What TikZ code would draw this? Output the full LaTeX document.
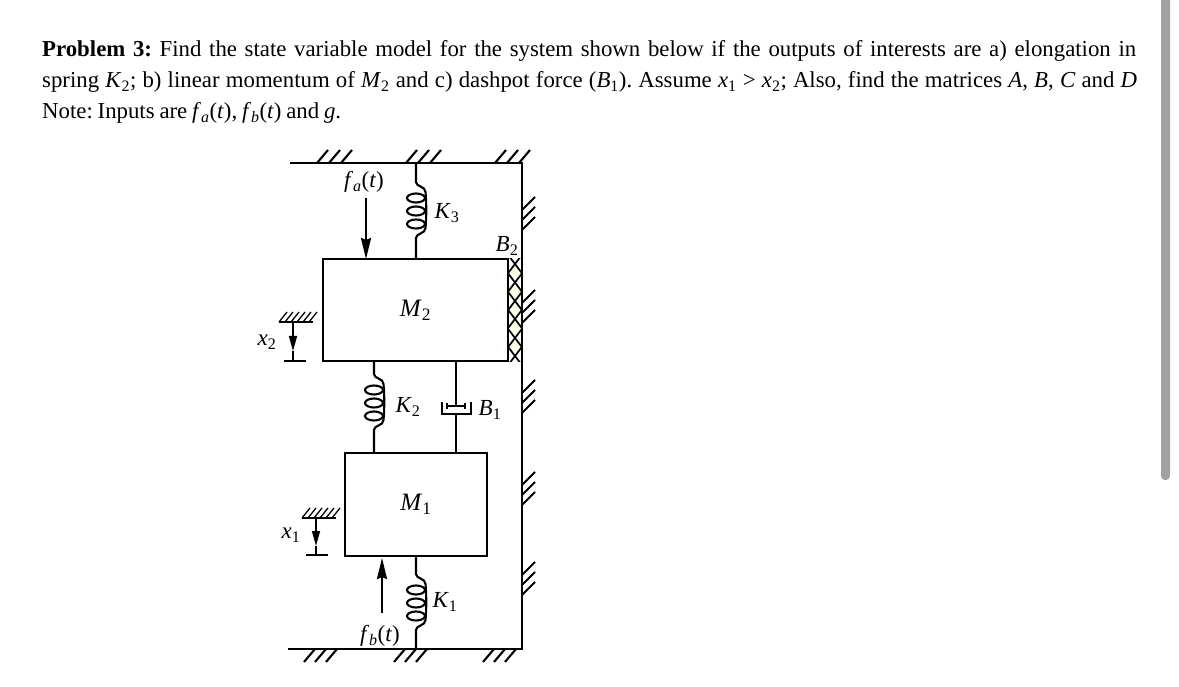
\documentclass[tikz,border=0pt]{standalone}
\usepackage{fontspec}
\setmainfont{Liberation Serif}
\usetikzlibrary{arrows.meta}
\newcommand{\lab}[2]{\textit{#1}\textsubscript{#2}}
\newcommand{\hatchmark}[2]{\foreach \dx in {0,12,24} \draw[wire] (#1+\dx,#2) -- ++(11,-13);}
% top, bottom, length of the straight part above the coil
\newcommand{\coilspring}[3]{
  \draw[wire] (#1) -- ++(0,#3) .. controls +(0,5) and +(0,-6) .. ++(9.5,10)
    .. controls +(1,10) and +(1,-10) .. ++(0,36)
    .. controls +(0,6) and +(0,-5) .. ++(-9.5,10) -- (#2);
  \foreach \dy in {16,29,42}
    \draw[wire] (#1) ++(0,#3+\dy) ellipse [x radius=9,y radius=4.5];
}
\tikzset{
  wire/.style={line width=2.1pt},
  mass/.style={draw, line width=2.1pt, inner sep=0pt, font=\fontsize{25}{28}\selectfont},
  lab/.style={inner sep=0pt, font=\fontsize{23}{26}\selectfont},
  push/.style={line width=2.4pt, -{Stealth[length=21pt,width=10pt,inset=2pt]}},
  para/.style={inner sep=0pt, anchor=base west, font=\fontsize{22.8}{26}\selectfont},
}
\begin{document}
\frenchspacing
\begin{tikzpicture}[x=1pt,y=-1pt]
  \fill[white] (0,0) rectangle (1179,687);
  \useasboundingbox (0,0) rectangle (1179,687);
  % scroll bar
  \fill[black!37,rounded corners=4pt] (1161,-10) rectangle (1170,480);

  \node[para] (line1) at (42,57) {\makebox[1094pt][s]{\textbf{Problem 3:} Find the state variable model for the system shown below if the outputs of interests are a) elongation in}};
  \node[para] (line2) at (42,88) {\makebox[1095pt][s]{spring \lab{K}{2}; b) linear momentum of \lab{M}{2} and c) dashpot force (\lab{B}{1}). Assume \lab{x}{1} > \lab{x}{2}; Also, find the matrices \textit{A}, \textit{B}, \textit{C} and \textit{D}}};
  \node[para] (line3) at (42,119) {\makebox[299pt][s]{Note: Inputs are \textit{f}\textsubscript{\textit{a}}(\textit{t}), \textit{f}\textsubscript{\textit{b}}(\textit{t}) and \textit{g}.}};

  % masses
  \node[mass, minimum width=185pt, minimum height=102pt] (M2) at (415.5,310) {\lab{M}{2}};
  \node[mass, minimum width=142pt, minimum height=103pt] (M1) at (416,504.5) {\lab{M}{1}};

  % walls
  \coordinate (wallTL) at (290,163);
  \coordinate (wallTR) at (522,163);
  \coordinate (wallBR) at (522,649);
  \coordinate (wallBL) at (288,649);
  \draw[wire] (wallTL) -- (wallTR) -- (wallBR) -- (wallBL);

  \hatchmark{317}{163}
  \hatchmark{406}{163}
  \hatchmark{495}{163}
  \foreach \x in {304,394,483}
    \foreach \dx in {0,11,22}
      \draw[wire] (\x+\dx+11,649) -- ++(-11,13);
  \foreach \y in {230,323,413,505,595}
    \foreach \dy in {0,10,20}
      \draw[wire] (522,\y-\dy) -- ++(13,-13);

  % K3
  \coordinate (K3top) at (416,163);
  \coordinate (K3bot) at (416,259);
  \coilspring{K3top}{K3bot}{19}
  \node[lab] (K3) at (447,213) {\lab{K}{3}};

  % K2
  \coordinate (K2top) at (374,361);
  \coordinate (K2bot) at (374,453);
  \coilspring{K2top}{K2bot}{13}
  \node[lab] (K2) at (408,407) {\lab{K}{2}};

  % K1
  \coordinate (K1top) at (416,556);
  \coordinate (K1bot) at (416,649);
  \coilspring{K1top}{K1bot}{18}
  \node[lab] (K1) at (445,602) {\lab{K}{1}};

  % B1
  \coordinate (B1top) at (456,361);
  \coordinate (B1pis) at (456,406);
  \coordinate (B1cyl) at (456,414);
  \coordinate (B1bot) at (456,453);
  \draw[wire] (B1top) -- (B1pis);
  \draw[wire] (B1cyl) -- (B1bot);
  \draw[wire] (442,402) -- (442,414) -- (471,414) -- (471,402);
  \draw[line width=1.4pt] (447,403) -- (447,409) (447,406) -- (465,406) (465,403) -- (465,409);
  \node[lab] (B1) at (490,410) {\lab{B}{1}};

  % B2 rollers
  \foreach \y in {273,292,310,328,347}
    \fill[black!14!yellow!10!white] (515,\y) circle (6.5);
  \begin{scope}
    \clip (508,259) rectangle (522,361);
    \foreach \y in {264,282.5,301,319,338,356}
      \draw[line width=1.7pt] (508,\y-9.2) -- (522,\y+9.2) (522,\y-9.2) -- (508,\y+9.2);
  \end{scope}
  \node[lab] (B2) at (507,246) {\lab{B}{2}};

  % forces
  \coordinate (faTail) at (366,198);
  \coordinate (faHead) at (366,259);
  \draw[push] (faTail) -- (faHead);
  \node[lab] (fa) at (364,182) {\textit{f}\textsubscript{\textit{a}}(\textit{t})};
  \coordinate (fbTail) at (382,613);
  \coordinate (fbHead) at (382,558);
  \draw[push] (fbTail) -- (fbHead);
  \node[lab] (fb) at (380,636) {\textit{f}\textsubscript{\textit{b}}(\textit{t})};

  % x2
  \coordinate (x2top) at (293,322);
  \coordinate (x2tip) at (293,351);
  \coordinate (x2foot) at (293,361);
  \draw[wire] (279,322) -- (313,322);
  \foreach \x in {0,6,12,18,24,30}
    \draw[line width=1.3pt] (279+\x,322) -- ++(8,-10);
  \draw[line width=1.5pt, -{Stealth[length=15pt,width=8pt,inset=0pt]}] (x2top) -- (x2tip);
  \draw[line width=1.5pt] (x2tip) -- (x2foot);
  \draw[wire] (284,361) -- (306,361);
  \node[lab] (x2) at (267,342) {\lab{x}{2}};

  % x1
  \coordinate (x1top) at (316,518);
  \coordinate (x1tip) at (316,546);
  \coordinate (x1foot) at (316,555);
  \draw[wire] (302,518) -- (336,518);
  \foreach \x in {0,6,12,18,24,30}
    \draw[line width=1.3pt] (302+\x,518) -- ++(8,-10);
  \draw[line width=1.5pt, -{Stealth[length=15pt,width=8pt,inset=0pt]}] (x1top) -- (x1tip);
  \draw[line width=1.5pt] (x1tip) -- (x1foot);
  \draw[wire] (306,555) -- (328,555);
  \node[lab] (x1) at (291,535) {\lab{x}{1}};
\end{tikzpicture}
\end{document}
